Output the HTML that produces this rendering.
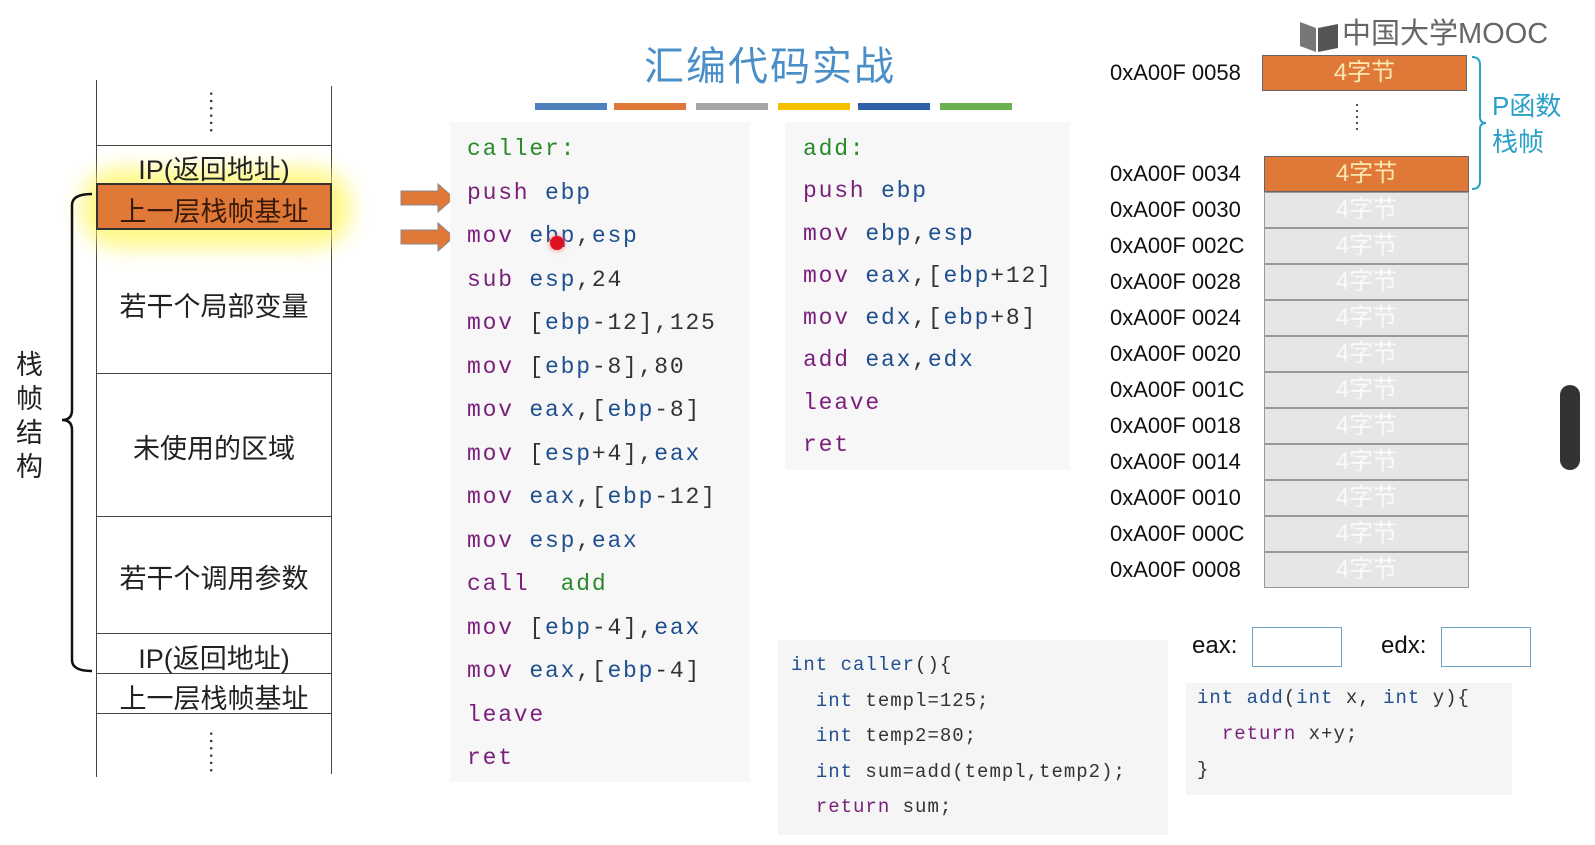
<!DOCTYPE html>
<html><head><meta charset="utf-8"><style>
*{margin:0;padding:0;box-sizing:border-box}
body{width:1595px;height:845px;background:#fff;position:relative;overflow:hidden;font-family:"Liberation Sans","Noto Sans CJK SC",sans-serif}
.a{position:absolute}
.mono{font-family:"Liberation Mono","Noto Sans CJK SC",monospace}
.code{font-size:23px;letter-spacing:1.8px;white-space:pre;line-height:1}
.m{color:#7a1f7a}.r{color:#1f4f8f}.n{color:#333}.g{color:#2a8a2a}
.cell{position:absolute;left:96px;width:236px;text-align:center;font-size:27px;color:#222}
.addr{position:absolute;left:1110px;font-size:22px;color:#111;line-height:1}
.box{position:absolute;left:1264px;width:205px;height:36px;background:#e6e6e6;border:1px solid #999;color:#fafafa;font-size:24px;text-align:center;line-height:34px}
.or{background:#e07838;color:#fbe8b0;border-color:#666}
.c2{font-size:19px;letter-spacing:1px;white-space:pre;line-height:1;color:#333}
</style></head><body>
<div class="a" style="left:96px;top:80px;width:1px;height:697px;background:#444"></div>
<div class="a" style="left:331px;top:86px;width:1px;height:688px;background:#444"></div>
<div class="a" style="left:96px;top:145px;width:236px;height:1px;background:#444"></div>
<div class="a" style="left:80px;top:168px;width:272px;height:80px;border-radius:40px;background:#fff66a;filter:blur(10px);opacity:.8"></div>
<div class="a" style="left:96px;top:183px;width:236px;height:47px;background:#e07838;border:2px solid #333"></div>
<div class="a" style="left:96px;top:373px;width:236px;height:1px;background:#444"></div>
<div class="a" style="left:96px;top:516px;width:236px;height:1px;background:#444"></div>
<div class="a" style="left:96px;top:633px;width:236px;height:1px;background:#444"></div>
<div class="a" style="left:96px;top:673px;width:236px;height:1px;background:#444"></div>
<div class="a" style="left:96px;top:713px;width:236px;height:1px;background:#444"></div>
<div class="a" style="left:208px;top:90px;font-size:22px;line-height:8px;color:#333;writing-mode:vertical-rl">······</div>
<div class="a" style="left:208px;top:730px;font-size:22px;line-height:8px;color:#333;writing-mode:vertical-rl">······</div>
<div class="cell" style="top:148px">IP(返回地址)</div>
<div class="cell" style="top:190px;color:#3a1a08">上一层栈帧基址</div>
<div class="cell" style="top:285px">若干个局部变量</div>
<div class="cell" style="top:427px">未使用的区域</div>
<div class="cell" style="top:557px">若干个调用参数</div>
<div class="cell" style="top:637px">IP(返回地址)</div>
<div class="cell" style="top:677px">上一层栈帧基址</div>
<svg class="a" style="left:40px;top:185px" width="60" height="495"><path d="M52 9 Q32 9 32 20 L32 225 Q32 235 22 235 Q32 235 32 245 L32 475 Q32 486 52 486" fill="none" stroke="#111" stroke-width="2.5"/></svg>
<div class="a" style="left:16px;top:348px;font-size:27px;line-height:34px;width:30px;color:#222">栈<br>帧<br>结<br>构</div>
<svg class="a" style="left:398px;top:182px" width="62" height="72"><polygon points="3,9 40,9 40,2 56,16 40,30 40,23 3,23" fill="#e07838" stroke="#888"/><polygon points="3,48 40,48 40,41 56,55 40,69 40,62 3,62" fill="#e07838" stroke="#888"/></svg>
<div class="a" style="left:620px;top:34px;width:300px;text-align:center;font-size:40px;color:#4a8fc8;letter-spacing:2px">汇编代码实战</div>
<div class="a" style="left:535px;top:103px;width:72px;height:7px;background:#4f81bd"></div>
<div class="a" style="left:614px;top:103px;width:72px;height:7px;background:#e07838"></div>
<div class="a" style="left:696px;top:103px;width:72px;height:7px;background:#a5a5a5"></div>
<div class="a" style="left:778px;top:103px;width:72px;height:7px;background:#f5c000"></div>
<div class="a" style="left:858px;top:103px;width:72px;height:7px;background:#2e5fa8"></div>
<div class="a" style="left:940px;top:103px;width:72px;height:7px;background:#6ab04c"></div>
<div class="a" style="left:450px;top:122px;width:300px;height:660px;background:#f7f7f7"></div>
<div class="a mono code" style="left:467px;top:128px;line-height:43.5px"><span class="g">caller:</span>
<span class="m">push</span> <span class="r">ebp</span>
<span class="m">mov</span> <span class="r">ebp</span><span class="n">,</span><span class="r">esp</span>
<span class="m">sub</span> <span class="r">esp</span><span class="n">,24</span>
<span class="m">mov</span> <span class="n">[</span><span class="r">ebp</span><span class="n">-12],125</span>
<span class="m">mov</span> <span class="n">[</span><span class="r">ebp</span><span class="n">-8],80</span>
<span class="m">mov</span> <span class="r">eax</span><span class="n">,[</span><span class="r">ebp</span><span class="n">-8]</span>
<span class="m">mov</span> <span class="n">[</span><span class="r">esp</span><span class="n">+4],</span><span class="r">eax</span>
<span class="m">mov</span> <span class="r">eax</span><span class="n">,[</span><span class="r">ebp</span><span class="n">-12]</span>
<span class="m">mov</span> <span class="r">esp</span><span class="n">,</span><span class="r">eax</span>
<span class="m">call</span>  <span class="g">add</span>
<span class="m">mov</span> <span class="n">[</span><span class="r">ebp</span><span class="n">-4],</span><span class="r">eax</span>
<span class="m">mov</span> <span class="r">eax</span><span class="n">,[</span><span class="r">ebp</span><span class="n">-4]</span>
<span class="m">leave</span>
<span class="m">ret</span></div>
<div class="a" style="left:550px;top:236px;width:14px;height:14px;border-radius:50%;background:#e01020;box-shadow:0 0 6px #f66"></div>
<div class="a" style="left:785px;top:122px;width:285px;height:348px;background:#f7f7f7"></div>
<div class="a mono code" style="left:803px;top:128px;line-height:42.3px"><span class="g">add:</span>
<span class="m">push</span> <span class="r">ebp</span>
<span class="m">mov</span> <span class="r">ebp</span><span class="n">,</span><span class="r">esp</span>
<span class="m">mov</span> <span class="r">eax</span><span class="n">,[</span><span class="r">ebp</span><span class="n">+12]</span>
<span class="m">mov</span> <span class="r">edx</span><span class="n">,[</span><span class="r">ebp</span><span class="n">+8]</span>
<span class="m">add</span> <span class="r">eax</span><span class="n">,</span><span class="r">edx</span>
<span class="m">leave</span>
<span class="m">ret</span></div>
<svg class="a" style="left:1298px;top:20px" width="44" height="34"><path d="M2 2 L18 8 L18 32 L2 26Z" fill="#777"/><path d="M20 8 L40 4 L40 28 L20 32Z" fill="#555"/></svg>
<div class="a" style="left:1342px;top:20px;font-size:29px;color:#666;line-height:1">中国大学MOOC</div>
<div class="addr" style="top:62px">0xA00F 0058</div>
<div class="box or" style="left:1262px;top:55px;width:205px">4字节</div>
<div class="a" style="left:1354px;top:102px;font-size:18px;line-height:7px;color:#333;writing-mode:vertical-rl">·····</div>
<div class="addr" style="top:163px">0xA00F 0034</div>
<div class="box or" style="top:156px">4字节</div>
<div class="addr" style="top:199px">0xA00F 0030</div><div class="box" style="top:192px">4字节</div>
<div class="addr" style="top:235px">0xA00F 002C</div><div class="box" style="top:228px">4字节</div>
<div class="addr" style="top:271px">0xA00F 0028</div><div class="box" style="top:264px">4字节</div>
<div class="addr" style="top:307px">0xA00F 0024</div><div class="box" style="top:300px">4字节</div>
<div class="addr" style="top:343px">0xA00F 0020</div><div class="box" style="top:336px">4字节</div>
<div class="addr" style="top:379px">0xA00F 001C</div><div class="box" style="top:372px">4字节</div>
<div class="addr" style="top:415px">0xA00F 0018</div><div class="box" style="top:408px">4字节</div>
<div class="addr" style="top:451px">0xA00F 0014</div><div class="box" style="top:444px">4字节</div>
<div class="addr" style="top:487px">0xA00F 0010</div><div class="box" style="top:480px">4字节</div>
<div class="addr" style="top:523px">0xA00F 000C</div><div class="box" style="top:516px">4字节</div>
<div class="addr" style="top:559px">0xA00F 0008</div><div class="box" style="top:552px">4字节</div>
<svg class="a" style="left:1470px;top:55px" width="20" height="140"><path d="M2 2 Q10 2 10 10 L10 62 Q10 68 16 68 Q10 68 10 74 L10 126 Q10 134 2 134" fill="none" stroke="#2aa0c8" stroke-width="2"/></svg>
<div class="a" style="left:1492px;top:88px;font-size:26px;line-height:36px;color:#2aa0c8">P函数<br>栈帧</div>
<div class="a" style="left:1560px;top:385px;width:20px;height:85px;border-radius:10px;background:#333"></div>
<div class="a" style="left:778px;top:640px;width:390px;height:195px;background:#f5f5f5"></div>
<div class="a mono c2" style="left:791px;top:648px;line-height:35.5px"><span class="r">int</span> <span class="r">caller</span>(){
  <span class="r">int</span> templ=125;
  <span class="r">int</span> temp2=80;
  <span class="r">int</span> sum=add(templ,temp2);
  <span class="m">return</span> sum;</div>
<div class="a" style="left:1192px;top:632px;font-size:24px;color:#111">eax:</div>
<div class="a" style="left:1252px;top:627px;width:90px;height:40px;border:1.5px solid #6ba3c8"></div>
<div class="a" style="left:1381px;top:632px;font-size:24px;color:#111">edx:</div>
<div class="a" style="left:1441px;top:627px;width:90px;height:40px;border:1.5px solid #6ba3c8"></div>
<div class="a" style="left:1186px;top:683px;width:326px;height:112px;background:#f5f5f5"></div>
<div class="a mono c2" style="left:1197px;top:680px;line-height:36px"><span class="r">int</span> <span class="r">add</span>(<span class="r">int</span> x, <span class="r">int</span> y){
  <span class="m">return</span> x+y;
}</div>
</body></html>
